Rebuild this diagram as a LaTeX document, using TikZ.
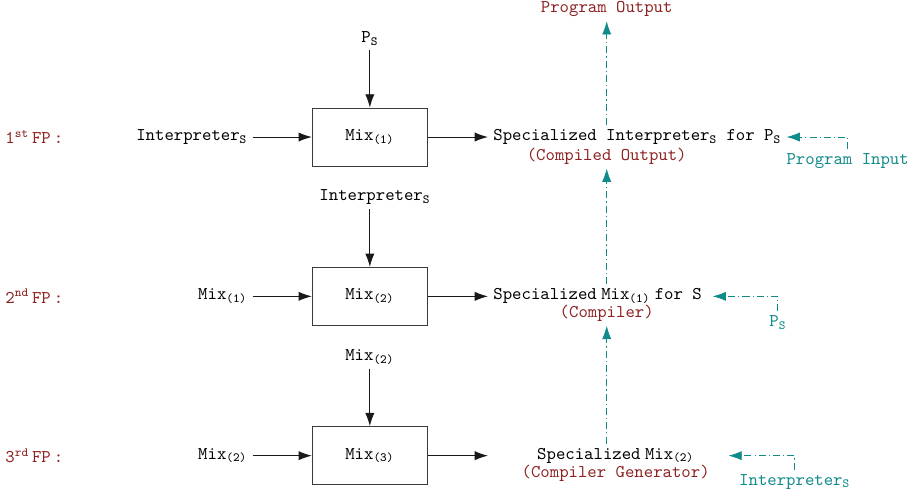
\documentclass[tikz,border=0pt]{standalone}
\usepackage{tikz}
\usetikzlibrary{positioning,arrows.meta,calc}
\definecolor{fpred}{HTML}{8E2222}
\definecolor{fpteal}{HTML}{118A8A}
\definecolor{boxgray}{HTML}{3A3A3A}
\tikzset{
  mixbox/.style={draw=boxgray,line width=.5pt,minimum width=22.6mm,minimum height=11.4mm,
                 inner sep=0pt,font=\ttfamily},
  txt/.style={font=\ttfamily,inner xsep=1mm,inner ysep=.8mm},
  fp/.style={txt,text=fpred},
  sublbl/.style={txt,text=fpred},
  inp/.style={txt,text=fpteal},
  fl/.style={-{Latex[length=2.6mm,width=1.8mm]},draw=black!90,line width=.5pt},
  dd/.style={-{Latex[length=2.6mm,width=1.8mm]},draw=fpteal,line width=.5pt,
             dash pattern=on 4pt off 1.7pt on .6pt off 1.7pt}
}
\begin{document}
\begin{tikzpicture}
\useasboundingbox (0,0) rectangle (180.6mm,-96.2mm);
\coordinate (o) at (0,0);
% the three mix runs
\node[mixbox] (m1) at (72.6mm,-26.9mm) {Mix\textsubscript{(1)}};
\node[mixbox,below=19.7mm of m1] (m2) {Mix\textsubscript{(2)}};
\node[mixbox,below=19.7mm of m2] (m3) {Mix\textsubscript{(3)}};

\node[txt,above=11.3mm of m1] (p1) {P\textsubscript{S}};
\node[txt,left=11.6mm of m1] (l1) {Interpreter\textsubscript{S}};
\node[txt,above=11.3mm of m2,xshift=1mm] (p2) {Interpreter\textsubscript{S}};
\node[txt,left=11.6mm of m2] (l2) {Mix\textsubscript{(1)}};
\node[txt,above=11.3mm of m3] (p3) {Mix\textsubscript{(2)}};
\node[txt,left=11.6mm of m3] (l3) {Mix\textsubscript{(2)}};

\node[fp,anchor=west] (f1) at (o |- m1) {1\textsuperscript{st}\,FP\,:};
\node[fp,anchor=west] (f2) at (o |- m2) {2\textsuperscript{nd}\,FP\,:};
\node[fp,anchor=west] (f3) at (o |- m3) {3\textsuperscript{rd}\,FP\,:};

% results
\node[txt,right=11.8mm of m1] (o1) {Specialized Interpreter\textsubscript{S} for P\textsubscript{S}};
\node[txt,right=11.8mm of m2] (o2) {Specialized\hspace{.25em}Mix\textsubscript{(1)}\hspace{.25em}for S};
\coordinate[right=11.8mm of m3] (t3);
\node[txt,right=8.6mm of t3] (o3) {Specialized\hspace{.25em}Mix\textsubscript{(2)}};

\coordinate[right=46.5mm of m1.center] (col);
\node[sublbl] (pout) at ($(col)+(0,25.1mm)$) {Program Output};
\node[sublbl] (c1) at ($(o1 -| col)+(0,-3.7mm)$) {(Compiled Output)};
\node[sublbl] (c2) at ($(o2 -| col)+(0,-3.3mm)$) {(Compiler)};
\node[sublbl] (c3) at ($(o3)+(0,-3.5mm)$) {(Compiler Generator)};

\node[inp] (i1) at ($(o1 -| col)+(47.3mm,-4.7mm)$) {Program Input};
\node[inp] (i2) at ($(o2 -| col)+(33.6mm,-5.1mm)$) {P\textsubscript{S}};
\node[inp] (i3) at ($(o3 -| col)+(36.9mm,-5.1mm)$) {Interpreter\textsubscript{S}};
\coordinate (a2) at ($(o2 -| col)+(20.8mm,0)$);
\coordinate (a3) at ($(o3 -| col)+(23.9mm,0)$);

\draw[fl] (p1) -- (m1);
\draw[fl] (l1) -- (m1);
\draw[fl] (m1) -- (o1);
\draw[fl] (p2.south -| m2) -- (m2);
\draw[fl] (l2) -- (m2);
\draw[fl] (m2) -- (o2);
\draw[fl] (p3) -- (m3);
\draw[fl] (l3) -- (m3);
\draw[fl] (m3) -- (t3);

\draw[dd] (o1.north -| col) -- (pout.south);
\draw[dd] (o2.north -| col) -- (c1.south);
\draw[dd] (o3.north -| col) -- (c2.south);
\draw[dd] (i1.north) |- (o1.east);
\draw[dd] (i2.north) |- (a2);
\draw[dd] (i3.north) |- (a3);
\end{tikzpicture}
\end{document}
